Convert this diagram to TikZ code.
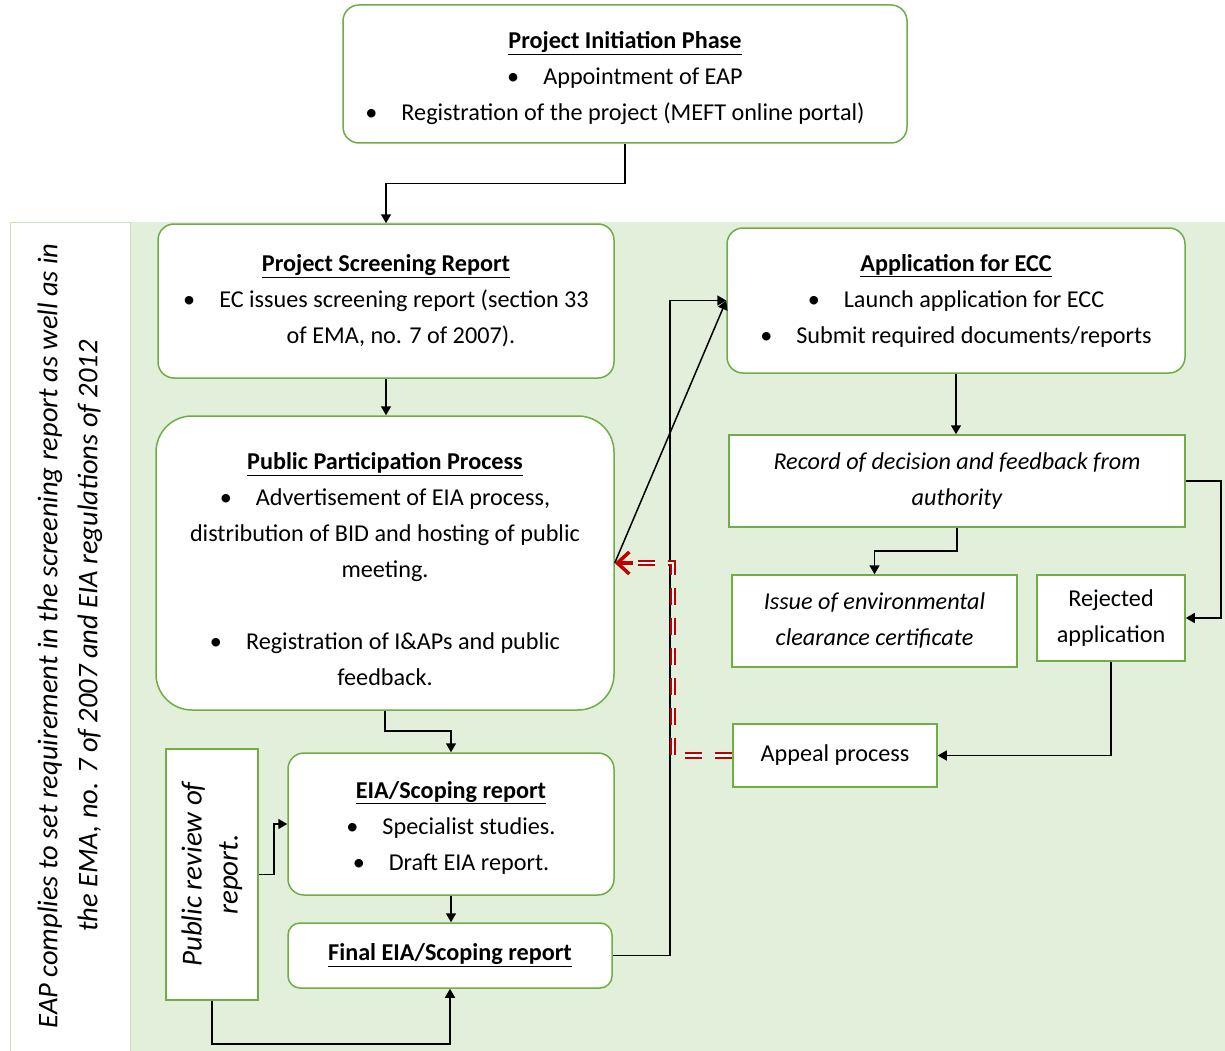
\documentclass[tikz,border=0pt]{standalone}
\usepackage{fontspec}
\setmainfont{Carlito}
\usetikzlibrary{arrows.meta,calc}
\definecolor{gborder}{HTML}{70AD47}
\definecolor{gbg}{HTML}{E2EFDA}
\definecolor{sideborder}{HTML}{C9E2B8}
\definecolor{redline}{HTML}{C00000}
\begin{document}
\begin{tikzpicture}[x=1pt,y=-1pt,
  boxtext/.style={align=center, font=\fontsize{24.2}{36}\selectfont, inner sep=0pt},
  rbox/.style={boxtext, draw=gborder, line width=1.5pt, fill=white, rounded corners=16pt},
  sbox/.style={boxtext, draw=gborder, line width=1.5pt, fill=white},
  arr/.style={-{Triangle[length=9pt,width=10pt]}, line width=1.5pt, black},
  reddash/.style={draw=redline, double=white, line width=2pt, double distance=2.4pt, dash pattern=on 17pt off 13pt},
  redtip/.style={-{Straight Barb[length=12pt,width=22pt,line width=3.5pt]}, redline, line width=3.5pt}
]
\useasboundingbox (0,0) rectangle (1225,1051);
\fill[gbg] (130,222) rectangle (1225,1051);
\node[draw=sideborder, line width=1pt, fill=white, minimum width=120pt, minimum height=840pt, inner sep=0pt] (side) at (70,642) {};
\node[rotate=90, align=center, font=\fontsize{28.5}{40}\selectfont\itshape, inner sep=0pt] (sidetext) at (70,636)
  {EAP complies to set requirement in the screening report as well as in\\ the EMA, no. 7 of 2007 and EIA regulations of 2012};

\node[rbox, minimum width=564pt, minimum height=138pt] (init) at (625,74)
  {\rule{0pt}{26pt}\textbf{\underline{Project Initiation Phase}}\\
   \textbullet\hspace{24pt}Appointment of EAP\\
   \hspace{-20pt}\textbullet\hspace{24pt}Registration of the project (MEFT online portal)};

\node[rbox, minimum width=456pt, minimum height=154pt] (screen) at (386,301)
  {\textbf{\underline{Project Screening Report}}\\
   \textbullet\hspace{24pt}EC issues screening report (section 33\\
   \hspace{30pt}of EMA, no. 7 of 2007).};

\node[rbox, rounded corners=36pt, minimum width=458pt, minimum height=294pt] (pp) at (385,563)
  {\rule{0pt}{30pt}\textbf{\underline{Public Participation Process}}\\
   \textbullet\hspace{24pt}Advertisement of EIA process,\\
   distribution of BID and hosting of public\\
   meeting.\\[36pt]
   \textbullet\hspace{24pt}Registration of I\&APs and public\\
   feedback.};

\node[rbox, minimum width=326pt, minimum height=142pt] (eia) at (451,824)
  {\rule{0pt}{24pt}\textbf{\underline{EIA/Scoping report}}\\
   \textbullet\hspace{24pt}Specialist studies.\\
   \textbullet\hspace{24pt}Draft EIA report.};

\node[rbox, rounded corners=12pt, minimum width=324pt, minimum height=65pt] (final) at (450,955.5)
  {\textbf{\underline{Final EIA/Scoping report}}};

\node[sbox, minimum width=92pt, minimum height=251pt] (review) at (212,874.5) {};
\node[rotate=90, align=center, font=\fontsize{29}{36}\selectfont\itshape, inner sep=0pt] (reviewtext) at (review.center)
  {Public review of\\ report.};

\node[rbox, minimum width=458pt, minimum height=145pt] (app) at (956,300.5)
  {\textbf{\underline{Application for ECC}}\\
   \textbullet\hspace{24pt}Launch application for ECC\\
   \textbullet\hspace{24pt}Submit required documents/reports};

\node[sbox, minimum width=456pt, minimum height=92pt, font=\fontsize{24.2}{36}\selectfont\itshape] (record) at (957,481)
  {Record of decision and feedback from\\ authority};

\node[sbox, minimum width=285pt, minimum height=92pt, font=\fontsize{24.2}{36}\selectfont\itshape] (issue) at (874.5,621)
  {Issue of environmental\\ clearance certificate};

\node[sbox, minimum width=148pt, minimum height=86pt] (rejected) at (1111,618)
  {Rejected\\ application};

\node[sbox, minimum width=204pt, minimum height=63pt] (appeal) at (835,755.5)
  {Appeal process};

% connectors
\draw[arr] (init.south) -- ++(0,40) -| (screen.north);
\draw[arr] (screen.south) -- (screen.south |- pp.north);
\draw[arr] (pp.south) -- ++(0,20) -| (eia.north);
\draw[arr] (eia.south) -- (eia.south |- final.north);
\draw[arr] (review.east) -- ++(15,0) |- (eia.west);
\draw[arr] (review.south) -- ++(0,43) -| (final.south);
\draw[arr] (pp.east) -- (app.west);
\draw[arr] (final.east) -- ++(57,0) |- (app.west);

\coordinate (redend) at ($(pp.east)+(18,0)$);
\coordinate (redcorner) at ($(appeal.west)+(-59,0)$);
\draw[reddash] (appeal.west) -- (redcorner) -- (redcorner |- redend) -- (redend);
\draw[redtip] (redend) -- (pp.east);

\draw[arr] (app.south) -- (app.south |- record.north);
\draw[arr] (record.south) -- ++(0,23) -| (issue.north);
\draw[arr] (record.east) -- ++(35,0) |- (rejected.east);
\draw[arr] (rejected.south) |- (appeal.east);
\end{tikzpicture}
\end{document}
